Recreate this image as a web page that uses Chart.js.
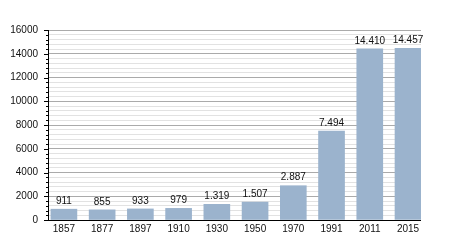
<!DOCTYPE html>
<html>
<head>
<meta charset="utf-8">
<script src="https://cdn.jsdelivr.net/npm/chart.js@4/dist/chart.umd.min.js"></script>
<style>
html,body{margin:0;padding:0;background:#fff;}
#wrap{width:450px;height:250px;position:relative;}
</style>
</head>
<body>
<div id="wrap"><canvas id="c"></canvas></div>
<script>
const years = ['1857','1877','1897','1910','1930','1950','1970','1991','2011','2015'];
const population = [911, 855, 933, 979, 1319, 1507, 2887, 7494, 14410, 14457];
const yTicksMajor = [0, 2000, 4000, 6000, 8000, 10000, 12000, 14000, 16000];

const fmt = v => String(v).replace(/\B(?=(\d{3})+(?!\d))/g, '.');
const FONT = '"Liberation Sans", Arial, sans-serif';

const tickPlugin = {
  id: 'yticks',
  afterDraw(chart) {
    const ctx = chart.ctx, y = chart.scales.y, left = chart.chartArea.left;
    ctx.save();
    ctx.strokeStyle = '#000';
    ctx.lineWidth = 1;
    y.ticks.forEach(t => {
      const py = Math.round(y.getPixelForValue(t.value)) + 0.5;
      const major = yTicksMajor.includes(t.value);
      ctx.beginPath();
      ctx.moveTo(left - (major ? 5 : 3), py);
      ctx.lineTo(left, py);
      ctx.stroke();
    });
    ctx.beginPath();
    ctx.moveTo(left - 0.5, chart.chartArea.top);
    ctx.lineTo(left - 0.5, chart.chartArea.bottom + 1);
    ctx.moveTo(left - 1, chart.chartArea.bottom + 0.5);
    ctx.lineTo(chart.chartArea.right, chart.chartArea.bottom + 0.5);
    ctx.stroke();
    const meta = chart.getDatasetMeta(0);
    ctx.fillStyle = '#111';
    ctx.font = '10px ' + FONT;
    ctx.textAlign = 'center';
    ctx.textBaseline = 'bottom';
    meta.data.forEach((bar, i) => {
      ctx.fillText(fmt(population[i]), bar.x, bar.y - 3);
    });
    ctx.restore();
  }
};

new Chart(document.getElementById('c'), {
  type: 'bar',
  data: {
    datasets: [{
      data: population.map((v, i) => ({x: i, y: v})),
      backgroundColor: '#9bb3cd',
      borderWidth: 0,
      barThickness: 26
    }]
  },
  options: {
    responsive: true,
    maintainAspectRatio: false,
    animation: false,
    layout: {padding: {left: 10, right: 29, top: 30, bottom: 16}},
    plugins: {legend: {display: false}, tooltip: {enabled: false}},
    scales: {
      x: {
        type: 'linear',
        min: -0.39,
        max: 9.34,
        offset: false,
        afterBuildTicks(scale) {
          scale.ticks = years.map((y, i) => ({value: i}));
        },
        afterFit(scale) { scale.height = 14; scale.paddingLeft = 0; scale.paddingRight = 0; },
        ticks: {
          callback: (v) => years[v] !== undefined ? years[v] : '',
          color: '#111',
          font: {family: FONT, size: 10},
          padding: 3,
          maxRotation: 0,
          autoSkip: false
        },
        grid: {display: false, drawTicks: false},
        border: {display: false}
      },
      y: {
        min: 0,
        max: 16000,
        afterFit(scale) { scale.width = 39; scale.paddingTop = 0; scale.paddingBottom = 0; },
        ticks: {
          stepSize: 400,
          autoSkip: false,
          callback: (v) => yTicksMajor.includes(v) ? String(v) : '',
          color: '#111',
          font: {family: FONT, size: 10},
          padding: 11
        },
        grid: {
          drawTicks: false,
          color: (c) => yTicksMajor.includes(c.tick.value) ? '#aaaaaa' : '#e2e2e2',
          lineWidth: 1
        },
        border: {display: false}
      }
    }
  },
  plugins: [tickPlugin]
});
</script>
</body>
</html>
